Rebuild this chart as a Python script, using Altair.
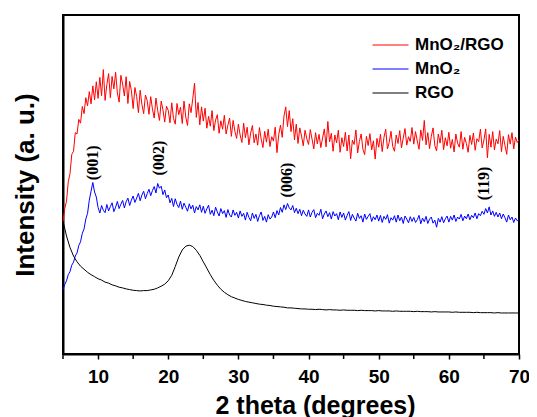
import altair as alt
import pandas as pd

# ---- data (intensity in arbitrary units, 0-100) ----
THETA_START = 5.0
STEP_FINE = 0.25   # sampling of MnO2/RGO and MnO2 traces
STEP_COARSE = 0.5  # sampling of RGO trace

mno2_rgo = [
    39.0, 42.9, 45.1, 50.8, 53.2, 58.9, 59.8, 65.3, 64.9, 69.2, 68.1, 73.0, 70.9, 75.6, 73.2, 77.4, 73.8, 79.1, 75.0, 80.3,
    75.4, 81.6, 76.2, 83.9, 74.8, 79.5, 82.7, 75.6, 81.9, 78.2, 83.1, 77.0, 74.3, 82.2, 79.6, 76.1, 81.8, 73.9, 80.4, 77.7,
    72.4, 78.6, 75.9, 71.2, 77.8, 73.6, 70.9, 76.4, 74.8, 70.7, 75.9, 72.3, 69.6, 75.5, 71.8, 68.9, 74.6, 72.0, 68.4, 73.1,
    71.9, 68.2, 74.1, 69.5, 67.8, 73.9, 70.6, 72.8, 68.0, 74.6, 69.9, 67.4, 73.8, 71.2, 75.4, 79.9, 69.8, 74.2, 67.6, 72.9,
    68.7, 72.5, 66.6, 70.1, 67.2, 71.8, 65.9, 69.0, 70.6, 65.1, 68.8, 66.3, 70.4, 64.9, 67.5, 69.6, 64.2, 68.9, 65.7, 63.6,
    67.8, 64.6, 62.4, 68.1, 63.8, 66.9, 61.7, 65.2, 67.4, 62.3, 64.9, 61.6, 66.8, 63.4, 60.9, 65.7, 62.5, 66.3, 61.2, 64.1,
    62.8, 66.9, 59.4, 64.7, 67.5, 63.9, 70.2, 72.9, 67.1, 71.8, 65.6, 69.4, 63.2, 67.8, 62.1, 66.7, 64.3, 61.4, 66.0, 63.5,
    61.8, 66.2, 63.4, 60.5, 65.3, 62.0, 64.8, 60.9, 63.7, 66.4, 61.1, 68.6, 62.6, 65.1, 59.8, 64.6, 62.3, 66.0, 59.5, 63.8,
    61.2, 65.4, 59.9, 64.6, 57.6, 63.1, 61.8, 66.1, 59.3, 62.7, 64.9, 60.4, 58.8, 64.2, 61.5, 65.0, 60.2, 62.9, 57.5, 63.6,
    61.0, 64.8, 59.7, 63.9, 66.3, 60.5, 62.4, 65.7, 61.2, 59.8, 64.6, 62.1, 65.9, 60.8, 63.7, 66.5, 61.6, 64.1, 62.7, 66.8,
    61.9, 65.6, 62.8, 60.4, 66.1, 63.0, 68.9, 61.7, 65.3, 60.6, 64.2, 66.7, 61.5, 59.9, 64.9, 62.2, 66.0, 60.3, 63.8, 61.4,
    65.4, 60.7, 63.3, 59.6, 64.9, 62.2, 61.0, 65.6, 60.4, 63.9, 62.1, 59.5, 64.5, 61.8, 65.2, 60.1, 63.5, 62.6, 66.3, 60.8,
    63.1, 66.4, 57.9, 64.8, 61.0, 65.6, 60.2, 63.4, 62.0, 65.9, 59.7, 64.2, 61.5, 58.9, 64.7, 61.9, 65.3, 60.5, 64.0, 62.4,
    63.2,
]

mno2 = [
    19.0, 20.5, 21.6, 23.4, 24.3, 26.2, 27.1, 28.9, 29.8, 32.0, 33.1, 35.6, 36.9, 39.8, 41.5, 45.4, 48.0, 50.6, 47.8, 46.3,
    43.2, 41.6, 43.8, 42.4, 41.7, 44.1, 42.2, 43.5, 44.6, 42.0, 43.3, 45.0, 42.9, 44.2, 45.3, 43.1, 44.9, 46.0, 43.8, 45.4,
    46.6, 44.7, 46.0, 47.4, 45.2, 46.9, 48.0, 45.8, 47.3, 48.6, 46.7, 48.2, 49.4, 47.5, 50.3, 48.9, 49.5, 47.0, 48.4, 46.1,
    46.9, 44.6, 45.9, 43.5, 45.8, 44.1, 43.2, 45.1, 42.7, 44.5, 43.3, 42.1, 44.3, 42.8, 43.9, 41.6, 43.5, 42.5, 44.0, 41.8,
    43.6, 41.5, 42.8, 43.9, 41.2, 42.4, 40.8, 43.3, 41.9, 40.7, 42.9, 41.4, 42.3, 40.3, 42.6, 41.0, 40.4, 42.5, 40.9, 41.8,
    40.1, 42.2, 40.6, 41.5, 39.5, 41.8, 40.3, 39.3, 41.6, 40.0, 41.2, 39.1, 40.8, 41.9, 39.4, 40.6, 38.9, 41.1, 39.8, 40.4,
    41.9, 40.2, 42.3, 41.0, 43.2, 41.8, 44.0, 42.6, 44.4, 43.1, 42.5, 43.8, 41.7, 43.0, 41.4, 42.7, 40.8, 42.4, 41.3, 40.6,
    42.5, 40.4, 41.8, 42.6, 40.2, 41.5, 40.9, 42.7, 39.9, 41.3, 42.2, 40.5, 41.7, 39.8, 42.0, 40.7, 41.4, 39.6, 41.9, 40.3,
    41.6, 39.5, 40.9, 42.0, 39.4, 41.2, 40.1, 39.2, 41.5, 40.0, 40.8, 38.9, 41.3, 39.7, 40.6, 41.4, 39.1, 40.5, 39.6, 41.0,
    39.2, 40.9, 38.8, 40.6, 39.7, 41.1, 38.6, 40.2, 39.5, 40.8, 38.9, 41.0, 39.3, 40.4, 38.5, 40.7, 39.8, 38.7, 40.5, 39.1,
    40.3, 38.8, 39.6, 40.9, 38.4, 40.1, 39.0, 40.6, 38.5, 39.8, 40.4, 38.6, 39.5, 37.4, 40.0, 38.9, 40.5, 38.7, 39.9, 40.7,
    38.9, 40.6, 39.5, 41.0, 39.1, 40.4, 39.8, 41.2, 39.3, 40.7, 39.9, 41.3, 39.6, 40.9, 40.2, 41.6, 39.9, 41.4, 40.8, 42.1,
    41.2, 42.9, 41.6, 43.4, 41.0, 42.2, 40.6, 41.8, 40.4, 41.6, 39.9, 41.3, 40.2, 38.9, 41.0, 39.6, 40.4, 38.8, 40.1, 39.3,
    39.6,
]

rgo = [
    39.2, 34.8, 31.4, 28.9, 27.2, 25.9, 25.0, 24.1, 23.4, 22.8,
    22.2, 21.8, 21.2, 20.9, 20.4, 20.1, 19.7, 19.5, 19.2, 19.0,
    18.8, 18.7, 18.6, 18.7, 18.7, 18.9, 19.1, 19.5, 20.0, 20.6,
    21.6, 23.2, 25.8, 28.6, 30.7, 31.8, 32.1, 31.7, 30.6, 29.1,
    27.2, 25.3, 23.4, 21.7, 20.3, 19.1, 18.2, 17.5, 16.9, 16.5,
    16.1, 15.8, 15.5, 15.3, 15.1, 14.9, 14.7, 14.6, 14.4, 14.3,
    14.1, 14.0, 13.9, 13.8, 13.6, 13.6, 13.5, 13.4, 13.3, 13.3,
    13.2, 13.2, 13.1, 13.2, 13.1, 13.0, 13.1, 13.0, 13.0, 12.9,
    13.0, 12.9, 12.9, 12.9, 12.8, 12.9, 12.8, 12.8, 12.8, 12.7,
    12.8, 12.7, 12.7, 12.7, 12.6, 12.7, 12.6, 12.6, 12.6, 12.6,
    12.5, 12.6, 12.5, 12.5, 12.5, 12.4, 12.5, 12.4, 12.4, 12.4,
    12.4, 12.3, 12.4, 12.3, 12.3, 12.3, 12.3, 12.2, 12.3, 12.2,
    12.2, 12.2, 12.2, 12.1, 12.2, 12.1, 12.1, 12.1, 12.1, 12.1,
    12.1,
]

series_names = ["MnO\u2082/RGO", "MnO\u2082", "RGO"]
series_colors = ["#ff0000", "#0000ff", "#000000"]
series_widths = [1.0, 1.0, 1.6]

peak_labels = ["(001)", "(002)", "(006)", "(119)"]
peak_theta = [9.3, 18.7, 36.9, 65.0]
peak_intensity = [56.4, 57.8, 51.3, 50.3]

major_ticks = [10, 20, 30, 40, 50, 60, 70]
minor_ticks = [5, 15, 25, 35, 45, 55, 65]

# ---- build tables ----
rows = []
for name, values, step in [
    (series_names[0], mno2_rgo, STEP_FINE),
    (series_names[1], mno2, STEP_FINE),
    (series_names[2], rgo, STEP_COARSE),
]:
    for i, v in enumerate(values):
        rows.append({"theta": THETA_START + step * i, "intensity": v, "sample": name})
df = pd.DataFrame(rows)
peaks = pd.DataFrame({"label": peak_labels, "theta": peak_theta, "intensity": peak_intensity})
minor = pd.DataFrame({"theta": minor_ticks})

FONT = "Liberation Sans"
PLOT_W, PLOT_H = 456, 339
TICK_LEN = 5

x_scale = alt.Scale(domain=[5, 70], nice=False, zero=False)
y_scale = alt.Scale(domain=[0, 100], nice=False, zero=False)

lines = alt.Chart(df).mark_line(interpolate="linear").encode(
    x=alt.X(
        "theta:Q",
        scale=x_scale,
        axis=alt.Axis(
            values=major_ticks,
            format="d",
            labelFlush=False,
            labelOverlap=False,
            grid=False,
            tickSize=TICK_LEN,
            tickWidth=1.5,
            tickColor="black",
            domainColor="black",
            domainWidth=2,
            labelFont=FONT,
            labelFontSize=19,
            labelFontWeight="bold",
            labelColor="black",
            labelPadding=8,
            title="2 theta (degrees)",
            titleFont=FONT,
            titleFontSize=25,
            titleFontWeight="bold",
            titleColor="black",
            titleX=252,
            titleY=59,
            titleAlign="center",
            titleBaseline="alphabetic",
        ),
    ),
    y=alt.Y(
        "intensity:Q",
        scale=y_scale,
        axis=alt.Axis(
            labels=False,
            ticks=False,
            grid=False,
            domainColor="black",
            domainWidth=2,
            title="Intensity (a. u.)",
            titleFont=FONT,
            titleFontSize=26,
            titleFontWeight="bold",
            titleColor="black",
            titleAngle=270,
            titleX=-38,
            titleY=PLOT_H / 2,
            titleAlign="center",
            titleBaseline="middle",
        ),
    ),
    color=alt.Color(
        "sample:N",
        scale=alt.Scale(domain=series_names, range=series_colors),
        legend=alt.Legend(
            title=None,
            orient="none",
            legendX=309,
            legendY=22,
            symbolType="stroke",
            symbolSize=1296,
            symbolStrokeWidth=1.5,
            clipHeight=16,
            rowPadding=7,
            labelFont=FONT,
            labelFontSize=17,
            labelFontWeight="bold",
            labelColor="black",
            labelOffset=6,
            padding=0,
        ),
    ),
    strokeWidth=alt.StrokeWidth(
        "sample:N",
        scale=alt.Scale(domain=series_names, range=series_widths),
        legend=None,
    ),
    detail="sample:N",
)

minor_rules = alt.Chart(minor).mark_rule(color="black", strokeWidth=1.5).encode(
    x=alt.X("theta:Q", scale=x_scale),
    y=alt.value(PLOT_H),
    y2=alt.value(PLOT_H + TICK_LEN),
)

labels = alt.Chart(peaks).mark_text(
    angle=270,
    align="center",
    baseline="middle",
    font="Liberation Serif",
    fontSize=16,
    fontWeight="bold",
    color="black",
).encode(
    x=alt.X("theta:Q", scale=x_scale),
    y=alt.Y("intensity:Q", scale=y_scale),
    text="label:N",
)

chart = (
    alt.layer(lines, minor_rules, labels)
    .properties(
        width=PLOT_W,
        height=PLOT_H,
        autosize=alt.AutoSizeParams(type="none"),
        padding={"left": 55, "top": 7, "right": 10, "bottom": 68},
        background="white",
    )
    .configure_view(stroke="black", strokeWidth=2)
)

chart.save("out.html", embed_options={"renderer": "svg", "actions": False})
